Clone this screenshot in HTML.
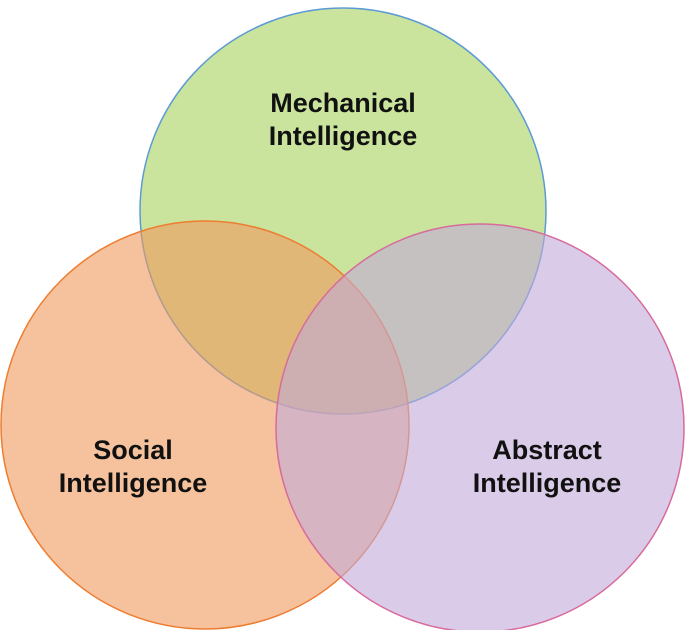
<!DOCTYPE html>
<html><head><style>html,body{margin:0;padding:0;background:#fff;}svg{display:block}</style></head>
<body>
<svg width="685" height="630" viewBox="0 0 685 630" xmlns="http://www.w3.org/2000/svg">
<circle cx="343" cy="211" r="203" fill="#a6d05c" fill-opacity="0.6" stroke="#5b9bd5" stroke-width="1.5"/>
<circle cx="205" cy="425" r="204" fill="#ee9a5c" fill-opacity="0.6" stroke="#ed7d31" stroke-width="1.5"/>
<circle cx="480" cy="428" r="204" fill="#c2aad8" fill-opacity="0.6" stroke="#d86a9c" stroke-width="1.5"/>
<g font-family="Liberation Sans, sans-serif" font-weight="bold" font-size="27" fill="#111" text-anchor="middle">
<text x="343" y="112">Mechanical</text>
<text x="343" y="145">Intelligence</text>
<text x="133" y="459">Social</text>
<text x="133" y="492">Intelligence</text>
<text x="547" y="459">Abstract</text>
<text x="547" y="492">Intelligence</text>
</g>
</svg>
</body></html>
